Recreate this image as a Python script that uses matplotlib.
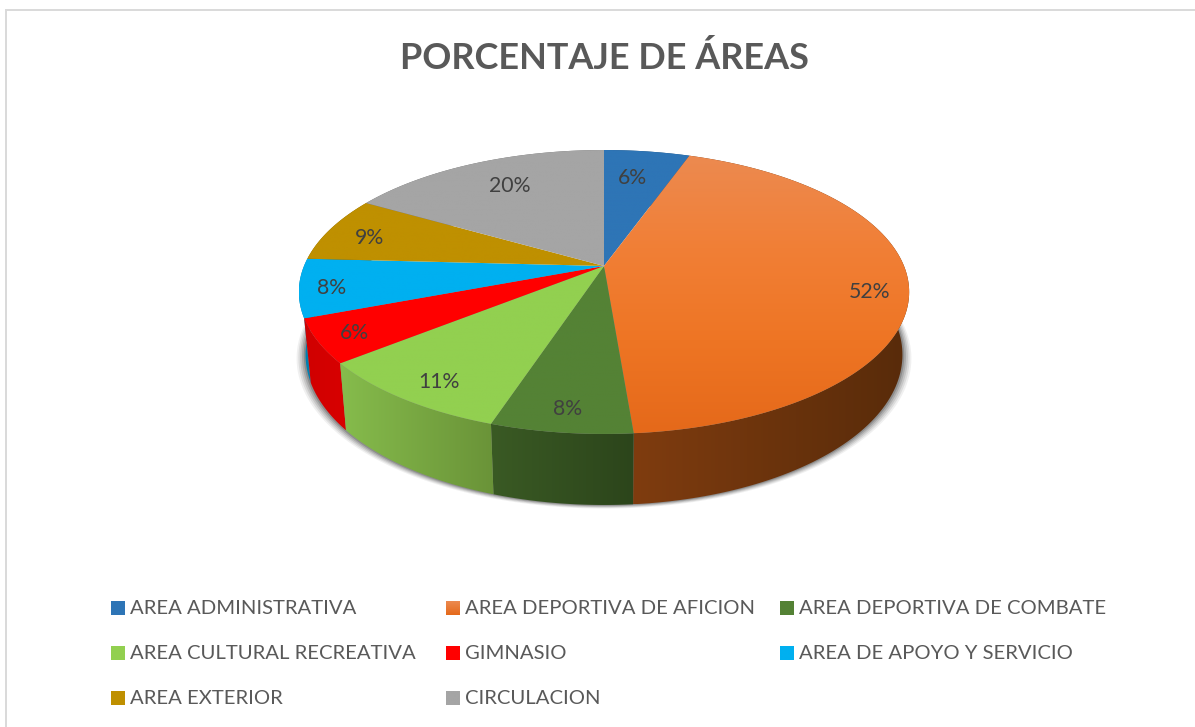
import numpy as np
import matplotlib
matplotlib.use('Agg')
import matplotlib.pyplot as plt
from matplotlib.colors import to_rgb, LinearSegmentedColormap
from matplotlib.patches import Polygon

plt.rcParams['font.family'] = ['Lato', 'DejaVu Sans']

# datos
categorias = ['AREA ADMINISTRATIVA', 'AREA DEPORTIVA DE AFICION', 'AREA DEPORTIVA DE COMBATE',
              'AREA CULTURAL RECREATIVA', 'GIMNASIO', 'AREA DE APOYO Y SERVICIO',
              'AREA EXTERIOR', 'CIRCULACION']
# los rotulos suman 120, los sectores se leen del dibujo
valores = [6.5, 52, 7.6, 11, 6, 8, 9, 20]
etiquetas = ['6%', '52%', '8%', '11%', '6%', '8%', '9%', '20%']

# colores: cara superior (de arriba a abajo) y pared (izq, der)
cara = [['#2e75b6'], ['#ec8a50', '#f17f36', '#ee7524', '#e5691a'], ['#548235'], ['#92d050'],
        ['#ff0000'], ['#00b0f0'], ['#bf9000'], ['#a5a5a5']]
pared = [('#1f4e79', '#1f4e79'), ('#7f3c0f', '#582b0a'), ('#3a5a24', '#2c451b'), ('#86bc4c', '#6a9338'),
         ('#d00000', '#d80000'), ('#0080b0', '#0080b0'), ('#7f6000', '#7f6000'), ('#6e6e6e', '#6e6e6e')]

# posicion de etiquetas y leyenda (pixeles)
pos_etiquetas = [(632, 178), (870, 292), (568, 409), (439, 382), (354, 333), (332, 288), (370, 238), (510, 186)]
col_leyenda = [111, 446, 780]
fila_leyenda = [608, 653, 698]

# perspectiva del disco
CX, CY = 604, 266
K, A, B = 0.183, 137.2, 300.0


def arriba(ang):
    u, v = np.sin(ang), np.cos(ang)
    w = 1 + K * v
    return CX + B * u / w, CY - A * v / w


def abajo(ang):
    x, y = arriba(ang)
    return CX + (x - CX) * 0.978, CY + (y - CY) * 1.058 + 61.3


fig = plt.figure(figsize=(11.95, 7.27), dpi=100)
ax = fig.add_axes([0, 0, 1, 1])


def degradado(pts, colores, vertical, z):
    # rellena un poligono con degradado lineal usando imshow recortado
    pts = np.array(pts)
    x0, x1, y0, y1 = pts[:, 0].min(), pts[:, 0].max(), pts[:, 1].min(), pts[:, 1].max()
    if len(colores) == 1:
        colores = [colores[0], colores[0]]
    cmap = LinearSegmentedColormap.from_list('g', [to_rgb(c) for c in colores])
    g = np.linspace(0, 1, 256)
    g = g[:, None] if vertical else g[None, :]
    im = ax.imshow(g, cmap=cmap, extent=(x0, x1, y1, y0), aspect='auto', zorder=z, vmin=0, vmax=1)
    p = Polygon(pts, closed=True, transform=ax.transData, fc='none', ec='none')
    ax.add_patch(p)
    im.set_clip_path(p)


fin = np.cumsum(valores) / np.sum(valores) * 2 * np.pi
ini = np.r_[0, fin[:-1]]

# sombra debajo de la pared
t = np.linspace(np.pi * 0.36, np.pi * 1.66, 300)
xs, ys = abajo(t)
for e, al in zip([0.030, 0.024, 0.018, 0.012, 0.006], [0.07, 0.10, 0.13, 0.17, 0.24]):
    ax.fill(CX + (xs - CX) * (1 + e), ys + e * 120, color='#303030', alpha=al, lw=0, zorder=1)

# paredes, primero las de atras
orden = [7, 6, 0, 5, 1, 4, 2, 3]
for n, i in enumerate(orden):
    t = np.linspace(ini[i], fin[i], 120)
    xa, ya = arriba(t)
    xb, yb = abajo(t)
    pts = list(zip(xa, ya)) + list(zip(xb, yb))[::-1]
    degradado(pts, pared[i], False, 2 + n * 0.01)

# cara superior
for i in range(len(valores)):
    t = np.linspace(ini[i], fin[i], 200)
    xa, ya = arriba(t)
    pts = [(CX, CY)] + list(zip(xa, ya))
    degradado(pts, cara[i], True, 3 + i * 0.01)
    ax.text(pos_etiquetas[i][0], pos_etiquetas[i][1], etiquetas[i], color='#404040', fontsize=15.3,
            ha='center', va='center', zorder=5)

# titulo
ax.text(604.5, 58, 'PORCENTAJE DE ÁREAS', color='#595959', fontsize=25.9, fontweight='bold',
        ha='center', va='center', zorder=5)

# leyenda
for i, nombre in enumerate(categorias):
    x = col_leyenda[i % 3]
    y = fila_leyenda[i // 3]
    pts = [(x, y - 7), (x + 14, y - 7), (x + 14, y + 7), (x, y + 7)]
    degradado(pts, [cara[i][0], cara[i][-1]], True, 4)
    ax.text(x + 19.5, y + 0.5, nombre, color='#595959', fontsize=14.55, ha='left', va='center', zorder=5)

# marco del grafico: solo se ve arriba y a la izquierda
ax.plot([6, 6, 1195], [727, 9.5, 9.5], color='#d9d9d9', lw=1.4, zorder=6, solid_joinstyle='miter')

ax.set_xlim(0, 1195)
ax.set_ylim(727, 0)
ax.axis('off')
fig.savefig('out.png', dpi=100, facecolor='white')
